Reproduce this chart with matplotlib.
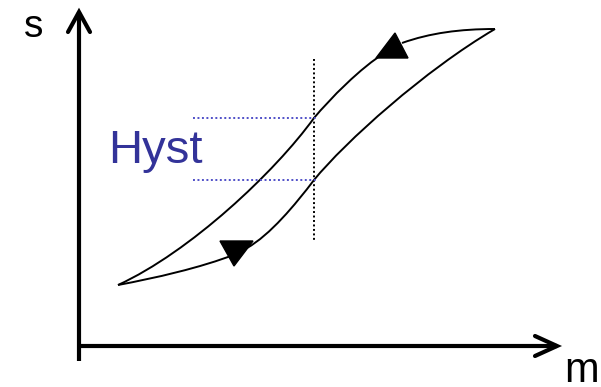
import matplotlib
matplotlib.use("Agg")
import matplotlib.pyplot as plt
from matplotlib.path import Path
from matplotlib.patches import PathPatch, Polygon

# Diagram coordinates (same scale as the reference image, y grows downward)
# Axes
y_axis_x = 79
y_axis_span = [12, 361]
x_axis_y = 346
x_axis_span = [79, 557]
y_arrow_x = [68, 79, 90]
y_arrow_y = [32, 12, 32]
x_arrow_x = [535, 557, 535]
x_arrow_y = [336, 346, 356]

# Hysteresis loop, cubic Bezier pieces: start, ctrl1, ctrl2, end
upper_branch = [
    [(118, 285), (190, 252), (275, 172), (314, 118)],
    [(314, 118), (330, 99), (360, 68), (386, 52)],
]
top_return = [[(402, 43), (430, 33), (460, 29), (495, 29)]]
lower_branch = [
    [(118, 285), (155, 278), (200, 268), (236, 254)],
    [(247, 248), (270, 235), (295, 205), (314, 180)],
    [(314, 180), (345, 142), (425, 70), (495, 29)],
]
up_arrow_head = [(395, 33), (376, 58), (408, 58)]
down_arrow_head = [(220, 241), (253, 241), (234, 266)]

# Hysteresis marker lines
vline_x = 314
vline_span = [59, 241]
hyst_levels = [118, 180]
hyst_span = [193, 318]


def bezier_path(pieces):
    verts, codes = [], []
    for p0, c1, c2, p1 in pieces:
        verts += [p0, c1, c2, p1]
        codes += [Path.MOVETO, Path.CURVE4, Path.CURVE4, Path.CURVE4]
    return Path(verts, codes)


fig = plt.figure(figsize=(6.01, 3.87), dpi=100)
ax = fig.add_axes([0, 0, 1, 1])
ax.set_xlim(0, 601)
ax.set_ylim(387, 0)
ax.axis("off")

# axes with open arrow heads
ax.plot([y_axis_x, y_axis_x], y_axis_span, color="black", lw=3, solid_capstyle="butt")
ax.plot(x_axis_span, [x_axis_y, x_axis_y], color="black", lw=3, solid_capstyle="butt")
ax.plot(y_arrow_x, y_arrow_y, color="black", lw=3, solid_capstyle="round", solid_joinstyle="miter")
ax.plot(x_arrow_x, x_arrow_y, color="black", lw=3, solid_capstyle="round", solid_joinstyle="miter")

# loop
for pieces in (upper_branch, top_return, lower_branch):
    ax.add_patch(PathPatch(bezier_path(pieces), fill=False, edgecolor="black", lw=1.4))
for tri in (up_arrow_head, down_arrow_head):
    ax.add_patch(Polygon(tri, closed=True, facecolor="black", edgecolor="black", lw=1))

# dotted guides
ax.plot([vline_x, vline_x], vline_span, color="black", lw=1.4, ls=(0, (1, 1.3)))
for lvl in hyst_levels:
    ax.plot(hyst_span, [lvl, lvl], color="#5050c8", lw=1.4, ls=(0, (1, 1.3)))

ax.text(108, 163, "Hyst", color="#333399", fontsize=34, family="Liberation Sans",
        ha="left", va="baseline")
ax.text(34, 37, "s", color="black", fontsize=28, family="Liberation Sans",
        ha="center", va="baseline")
ax.text(564, 382, "m", color="black", fontsize=30, family="Liberation Sans",
        ha="left", va="baseline")

fig.savefig("out.png", dpi=100)
